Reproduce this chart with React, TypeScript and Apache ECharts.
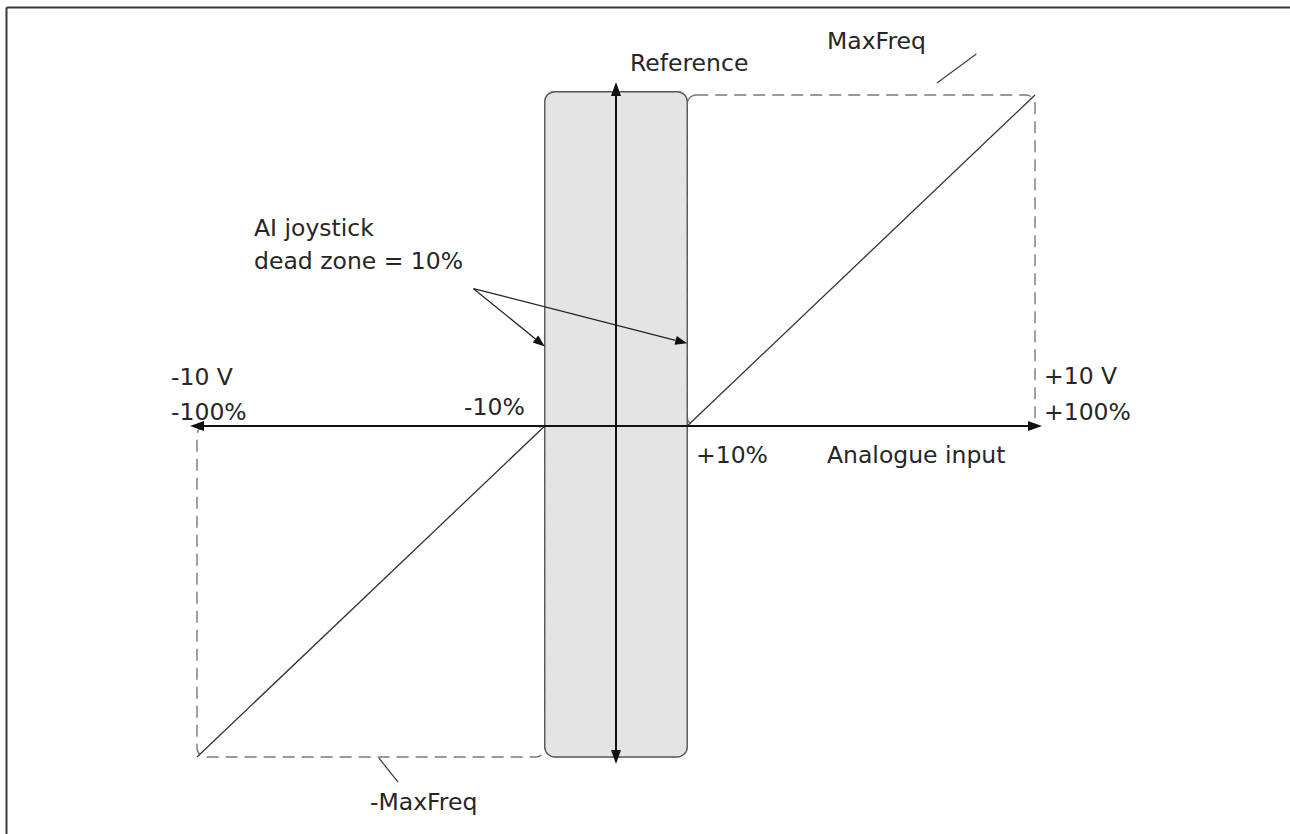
import React, { useEffect, useRef } from "react";
import * as echarts from "echarts";

// ---- Data (schematic units: x = analogue input %, y = output % of MaxFreq) ----
// The ±10 % dead zone is drawn wider than to scale in the original diagram.
const xRange = [-100, 100];
const yRange = [-100, 100];
const deadZoneBand = [[-17, -100, 17, 101]]; // [x0, y0, x1, y1]
const positiveRamp = [[17, 0], [100, 100]];
const negativeRamp = [[-17, 0], [-100, -100]];
const limitBoxes = [
  [17, 0, 100, 100], // +MaxFreq region
  [-100, -100, -17, 0], // -MaxFreq region
];
const calloutArrows = [
  [-34, 41.5, -17, 24],
  [-34, 41.5, 17, 25],
];
const leaderLines = [
  [76.6, 103.6, 86, 112.4],
  [-56.6, -100.3, -52, -107.6],
];
const labelTexts = [
  "Reference",
  "MaxFreq",
  "AI joystick",
  "dead zone = 10%",
  "-10 V",
  "-100%",
  "-10%",
  "+10%",
  "Analogue input",
  "+10 V",
  "+100%",
  "-MaxFreq",
];

// ---- Layout (pixels) for the annotation texts, same order as labelTexts ----
const labelPos: [number, number][] = [
  [630, 63],
  [827, 41],
  [254, 228],
  [254, 261],
  [171, 377],
  [171, 412],
  [464, 407],
  [696, 455],
  [827, 455],
  [1044, 376],
  [1044, 412],
  [370, 802],
];

const FONT = "DejaVu Sans";

export default function App() {
  const ref = useRef<HTMLDivElement>(null);

  useEffect(() => {
    if (!ref.current) return;
    const chart = echarts.init(ref.current, undefined, { renderer: "svg" });

    const rectRender = (styleKind: "dash" | "band") => (params: any, api: any) => {
      const p0 = api.coord([api.value(0), api.value(1)]);
      const p1 = api.coord([api.value(2), api.value(3)]);
      const shape = {
        x: Math.min(p0[0], p1[0]),
        y: Math.min(p0[1], p1[1]),
        width: Math.abs(p1[0] - p0[0]),
        height: Math.abs(p1[1] - p0[1]),
        r: styleKind === "dash" ? 9 : 10,
      };
      return {
        type: "rect",
        shape,
        style:
          styleKind === "dash"
            ? { fill: "none", stroke: "#7a7a7a", lineWidth: 1.4, lineDash: [12, 7] }
            : { fill: "#e4e4e4", stroke: "#555555", lineWidth: 1.4 },
      };
    };

    const option: any = {
      animation: false,
      backgroundColor: "#ffffff",
      grid: { left: 197, top: 95, width: 838, height: 662 },
      xAxis: {
        type: "value",
        min: xRange[0],
        max: xRange[1],
        z: 10,
        axisLine: {
          show: true,
          onZero: true,
          symbol: ["triangle", "triangle"],
          symbolSize: [10, 14],
          lineStyle: { color: "#111111", width: 2 },
        },
        axisTick: { show: false },
        axisLabel: { show: false },
        splitLine: { show: false },
      },
      yAxis: {
        type: "value",
        min: yRange[0],
        max: yRange[1],
        z: 10,
        axisLine: {
          show: true,
          onZero: true,
          symbol: ["triangle", "triangle"],
          symbolSize: [10, 14],
          symbolOffset: [0, 6],
          lineStyle: { color: "#111111", width: 2 },
        },
        axisTick: { show: false },
        axisLabel: { show: false },
        splitLine: { show: false },
      },
      series: [
        {
          type: "custom",
          z: 1,
          silent: true,
          data: limitBoxes,
          renderItem: rectRender("dash"),
        },
        {
          type: "custom",
          z: 2,
          silent: true,
          data: deadZoneBand,
          renderItem: rectRender("band"),
        },
        {
          type: "line",
          z: 3,
          data: positiveRamp,
          symbol: "none",
          lineStyle: { color: "#333333", width: 1.3 },
        },
        {
          type: "line",
          z: 3,
          data: negativeRamp,
          symbol: "none",
          lineStyle: { color: "#333333", width: 1.3 },
        },
        {
          type: "custom",
          z: 4,
          silent: true,
          data: calloutArrows,
          renderItem: (params: any, api: any) => {
            const a = api.coord([api.value(0), api.value(1)]);
            const b = api.coord([api.value(2), api.value(3)]);
            const dx = b[0] - a[0];
            const dy = b[1] - a[1];
            const len = Math.hypot(dx, dy);
            const ux = dx / len;
            const uy = dy / len;
            const hl = 12;
            const hw = 4.5;
            const base = [b[0] - ux * hl, b[1] - uy * hl];
            return {
              type: "group",
              children: [
                {
                  type: "line",
                  shape: { x1: a[0], y1: a[1], x2: base[0], y2: base[1] },
                  style: { stroke: "#222222", lineWidth: 1.3 },
                },
                {
                  type: "polygon",
                  shape: {
                    points: [
                      [b[0], b[1]],
                      [base[0] - uy * hw, base[1] + ux * hw],
                      [base[0] + uy * hw, base[1] - ux * hw],
                    ],
                  },
                  style: { fill: "#111111" },
                },
              ],
            };
          },
        },
        {
          type: "custom",
          z: 4,
          silent: true,
          data: leaderLines,
          renderItem: (params: any, api: any) => {
            const a = api.coord([api.value(0), api.value(1)]);
            const b = api.coord([api.value(2), api.value(3)]);
            return {
              type: "line",
              shape: { x1: a[0], y1: a[1], x2: b[0], y2: b[1] },
              style: { stroke: "#444444", lineWidth: 1.3 },
            };
          },
        },
      ],
      graphic: [
        {
          type: "line",
          silent: true,
          shape: { x1: 6.5, y1: 7.5, x2: 1290, y2: 7.5 },
          style: { stroke: "#3a3a3a", lineWidth: 2 },
        },
        {
          type: "line",
          silent: true,
          shape: { x1: 6.5, y1: 7.5, x2: 6.5, y2: 834 },
          style: { stroke: "#3a3a3a", lineWidth: 2 },
        },
        ...labelTexts.map((t, i) => ({
          type: "text",
          silent: true,
          x: labelPos[i][0],
          y: labelPos[i][1],
          style: {
            text: t,
            fontSize: 23.5,
            fontFamily: FONT,
            fill: "#262626",
            align: "left",
            verticalAlign: "middle",
          },
        })),
      ],
    };

    chart.setOption(option);
    return () => chart.dispose();
  }, []);

  return (
    <div
      ref={ref}
      style={{
        position: "absolute",
        left: 0,
        top: 0,
        width: 1290,
        height: 834,
        background: "#ffffff",
      }}
    />
  );
}
